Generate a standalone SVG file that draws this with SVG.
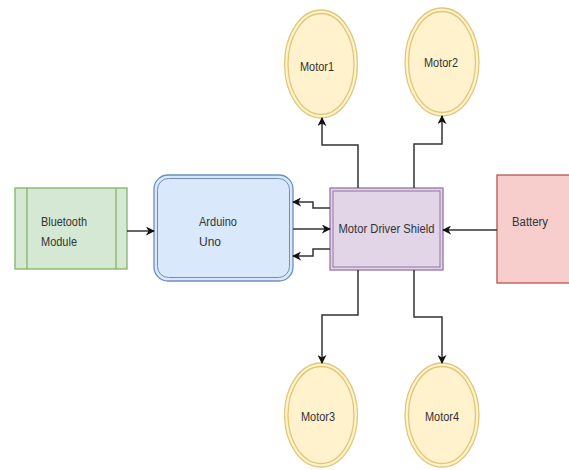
<svg xmlns="http://www.w3.org/2000/svg" width="569" height="470" viewBox="0 0 569 470">
<defs>
<style>
.t{font-family:"Liberation Sans",Arial,sans-serif;font-size:12px;fill:#333;}
.c{fill:none;stroke:#333;stroke-width:1.5;}
.motor{fill:#fff2cc;stroke:#e0c77a;stroke-width:1.3;}
</style>
<marker id="ah" viewBox="0 0 10 10" refX="9" refY="5" markerWidth="9" markerHeight="9" markerUnits="userSpaceOnUse" orient="auto">
<path d="M0,0 L10,5 L0,10 L3,5 Z" fill="#111"/>
</marker>
</defs>
<rect width="569" height="470" fill="#ffffff"/>
<g id="bluetooth">
<rect x="15" y="188" width="112" height="81" fill="#d5e8d4" stroke="#82b366" stroke-width="1.3"/>
<line x1="27" y1="188" x2="27" y2="269" stroke="#82b366" stroke-width="1.3"/>
<line x1="116" y1="188" x2="116" y2="269" stroke="#82b366" stroke-width="1.3"/>
<text class="t" x="41" y="226" textLength="46" lengthAdjust="spacingAndGlyphs">Bluetooth</text>
<text class="t" x="41" y="246" textLength="36" lengthAdjust="spacingAndGlyphs">Module</text>
</g>
<g id="arduino">
<rect x="154" y="175" width="139" height="106" rx="14" fill="#dae8fc" stroke="#6c8ebf" stroke-width="1.3"/>
<rect x="157.5" y="178.5" width="132" height="99" rx="11" fill="none" stroke="#6c8ebf" stroke-width="1"/>
<text class="t" x="199" y="226" textLength="38" lengthAdjust="spacingAndGlyphs">Arduino</text>
<text class="t" x="199" y="246">Uno</text>
</g>
<g id="shield">
<rect x="330" y="188" width="113" height="82" fill="#e1d5e7" stroke="#9673a6" stroke-width="1.3"/>
<rect x="333" y="191" width="107" height="76" fill="none" stroke="#9673a6" stroke-width="1"/>
<text class="t" x="386.5" y="233" text-anchor="middle" textLength="96" lengthAdjust="spacingAndGlyphs">Motor Driver Shield</text>
</g>
<g id="battery">
<rect x="497" y="175" width="80" height="108" fill="#f8cecc" stroke="#b85450" stroke-width="1.3"/>
<text class="t" x="512" y="226" textLength="36" lengthAdjust="spacingAndGlyphs">Battery</text>
</g>
<g id="motor1">
<ellipse class="motor" cx="321" cy="64" rx="36.5" ry="54"/>
<ellipse class="motor" cx="321" cy="64" rx="33" ry="50.5" fill="none"/>
<text class="t" x="317" y="71" text-anchor="middle" textLength="34" lengthAdjust="spacingAndGlyphs">Motor1</text>
</g>
<g id="motor2">
<ellipse class="motor" cx="442" cy="62" rx="37" ry="54"/>
<ellipse class="motor" cx="442" cy="62" rx="33.5" ry="50.5" fill="none"/>
<text class="t" x="441" y="67" text-anchor="middle" textLength="34" lengthAdjust="spacingAndGlyphs">Motor2</text>
</g>
<g id="motor3">
<ellipse class="motor" cx="321" cy="415" rx="36.5" ry="52"/>
<ellipse class="motor" cx="321" cy="415" rx="33" ry="48.5" fill="none"/>
<text class="t" x="318" y="421" text-anchor="middle" textLength="34" lengthAdjust="spacingAndGlyphs">Motor3</text>
</g>
<g id="motor4">
<ellipse class="motor" cx="442" cy="415" rx="37" ry="52"/>
<ellipse class="motor" cx="442" cy="415" rx="33.5" ry="48.5" fill="none"/>
<text class="t" x="442" y="421" text-anchor="middle" textLength="34" lengthAdjust="spacingAndGlyphs">Motor4</text>
</g>
<g id="connectors">
<path class="c" d="M127,231 L154,231" marker-end="url(#ah)"/>
<path class="c" d="M293,229 L330,229" marker-end="url(#ah)"/>
<path class="c" d="M330,208 L313,208 L313,202 L293,202" marker-end="url(#ah)"/>
<path class="c" d="M330,249 L313,249 L313,256 L293,256" marker-end="url(#ah)"/>
<path class="c" d="M497,230 L443,230" marker-end="url(#ah)"/>
<path class="c" d="M358,188 L358,145 L322,145 L322,118" marker-end="url(#ah)"/>
<path class="c" d="M414,188 L414,144 L442,144 L442,116" marker-end="url(#ah)"/>
<path class="c" d="M358,270 L358,315 L322,315 L322,363" marker-end="url(#ah)"/>
<path class="c" d="M414,270 L414,317 L442,317 L442,363" marker-end="url(#ah)"/>
</g>
</svg>
